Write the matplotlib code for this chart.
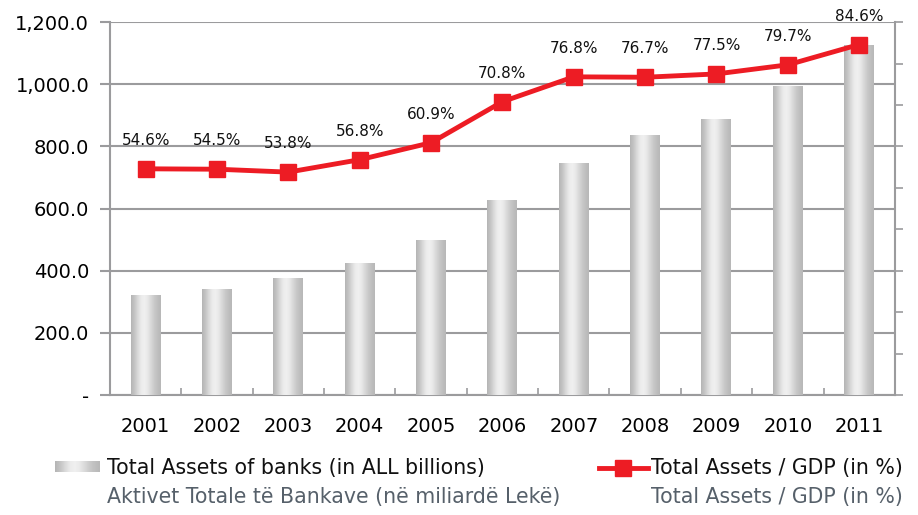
import matplotlib
matplotlib.use('Agg')
import matplotlib.pyplot as plt
from matplotlib.patches import Rectangle
from matplotlib.lines import Line2D
import numpy as np

years = ["2001", "2002", "2003", "2004", "2005", "2006", "2007", "2008", "2009", "2010", "2011"]
assets = [322, 341, 376, 425, 499, 627, 746, 836, 888, 994, 1126]
ratio = [54.6, 54.5, 53.8, 56.8, 60.9, 70.8, 76.8, 76.7, 77.5, 79.7, 84.6]
yticks = [0, 200, 400, 600, 800, 1000, 1200]
ytick_labels = ["-", "200.0", "400.0", "600.0", "800.0", "1,000.0", "1,200.0"]

RED = "#ED1C24"
GRID = "#9b9b9d"
TICKFONT = "DejaVu Sans"

fig = plt.figure(figsize=(9.18, 5.15), dpi=100)
ax = fig.add_axes([0.1198, 0.233, 0.855, 0.724])
x = np.arange(len(years))
bw = 0.42

# gradient for bars (dark edges, light left-of-centre)
g = np.array([0.71, 0.77, 0.85, 0.92, 0.94, 0.91, 0.85, 0.79, 0.75, 0.72])
grad = np.interp(np.linspace(0, 1, 64), np.linspace(0, 1, len(g)), g)
grad_img = np.tile(grad, (2, 1))

bars = ax.bar(x, assets, width=bw, color='none', edgecolor='none', zorder=3)
for b in bars:
    x0, w, h = b.get_x(), b.get_width(), b.get_height()
    im = ax.imshow(grad_img, cmap='gray', vmin=0, vmax=1, aspect='auto',
                   extent=(x0, x0 + w, 0, h), zorder=3, interpolation='bicubic')
    im.set_clip_path(Rectangle((x0, 0), w, h, transform=ax.transData))

ax.set_xlim(-0.5, len(years) - 0.5)
ax.set_ylim(0, 1200)
ax.set_yticks(yticks)
ax.set_yticklabels(ytick_labels, fontsize=14, family=TICKFONT)
ax.yaxis.grid(True, color=GRID, lw=1.5, zorder=1)
ax.set_axisbelow(True)
ax.tick_params(axis='y', length=7, width=1.5, color=GRID, pad=8)

ax.set_xticks(x)
ax.set_xticklabels(years, fontsize=14, family=TICKFONT)
ax.set_xticks(np.arange(-0.5, len(years), 1.0), minor=True)
ax.tick_params(axis='x', which='both', direction='in', length=5, width=1.2, color=GRID, pad=16)

ax.spines['top'].set_visible(False)
ax.spines['right'].set_visible(False)
for s in ['left', 'bottom']:
    ax.spines[s].set_color(GRID)
    ax.spines[s].set_linewidth(1.5)

# secondary axis for the ratio
ax2 = ax.twinx()
ax2.set_ylim(0, 90)
ax2.set_yticks(np.arange(0, 91, 10))
ax2.set_yticklabels([])
ax2.tick_params(axis='y', length=6, width=1.2, color=GRID)
for s in ['top', 'left', 'bottom']:
    ax2.spines[s].set_visible(False)
ax2.spines['right'].set_color(GRID)
ax2.spines['right'].set_linewidth(1.5)

ax2.plot(x, ratio, color=RED, lw=3.5, marker='s', markersize=11, zorder=5)
for xi, r in zip(x, ratio):
    ax2.annotate(f"{r:.1f}%", (xi, r), xytext=(0, 15), textcoords='offset points',
                 ha='center', va='bottom', fontsize=11, family=TICKFONT, color='#111111',
                 annotation_clip=False)

# legend
patch_ax = fig.add_axes([55 / 918, 1 - 472 / 515, 45 / 918, 11 / 515])
patch_ax.imshow(grad_img, cmap='gray', vmin=0, vmax=1, aspect='auto', interpolation='bicubic')
patch_ax.axis('off')

LEGFONT = 'DejaVu Sans'
fig.text(107 / 918, 1 - 468 / 515, "Total Assets of banks (in ALL billions)",
         fontsize=14.8, family=LEGFONT, color='#111111', va='center')
fig.text(107 / 918, 1 - 497 / 515, "Aktivet Totale të Bankave (në miliardë Lekë)",
         fontsize=14.8, family=LEGFONT, color='#56606a', va='center')

ly = 1 - 468 / 515
fig.add_artist(Line2D([599 / 918, 648 / 918], [ly, ly], color=RED, lw=3.5))
fig.add_artist(Line2D([623 / 918], [ly], color=RED, marker='s', markersize=11, lw=0))
fig.text(651 / 918, ly, "Total Assets / GDP (in %)",
         fontsize=14.8, family=LEGFONT, color='#111111', va='center')
fig.text(651 / 918, 1 - 497 / 515, "Total Assets / GDP (in %)",
         fontsize=14.8, family=LEGFONT, color='#56606a', va='center')

plt.savefig("out.png", dpi=100, facecolor='white')
plt.close()
